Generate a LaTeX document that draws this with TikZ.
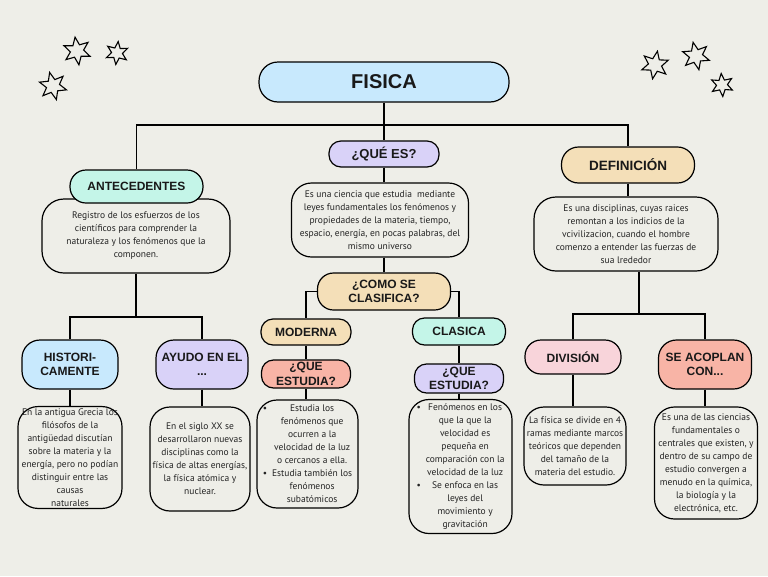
\documentclass[tikz,border=0pt]{standalone}
\usepackage{fontspec}
\setmainfont{Liberation Sans}
\newfontfamily\bodyfont{PT Sans}
\usetikzlibrary{positioning,shapes.geometric,calc}

\definecolor{paper}{RGB}{238,238,232}
\definecolor{skyfill}{RGB}{200,233,253}
\definecolor{lilacfill}{RGB}{217,210,248}
\definecolor{mintfill}{RGB}{196,245,232}
\definecolor{sandfill}{RGB}{244,223,184}
\definecolor{coralfill}{RGB}{248,180,166}
\definecolor{rosefill}{RGB}{248,212,218}
\definecolor{inkgray}{RGB}{35,35,35}

\tikzset{
  topic/.style={draw=black, line width=1.2pt, rounded corners=12pt, align=center,
    inner sep=2pt, text=black!90, font=\bfseries\fontsize{12}{14.5}\selectfont},
  notebox/.style={draw=black, line width=1.2pt, rounded corners=20pt, fill=paper,
    align=center, inner sep=2pt, text=inkgray, font=\bodyfont\fontsize{9.5}{13}\selectfont},
  link/.style={draw=black, line width=1.2pt},
  doodle/.style={star, star points=6, star point ratio=2.1, draw=black,
    line width=1.1pt, fill=paper, inner sep=0pt}
}

\begin{document}
\begin{tikzpicture}[x=1pt, y=-1pt]

    % Paper background fixes the page size
    \fill[paper] (0,0) rectangle (768,576);
    \useasboundingbox (0,0) rectangle (768,576);

    % Doodle stars in the top corners
    \foreach \i/\px/\py/\sz/\rot in {1/77/51/28/8, 2/117/53/23/-6, 3/53/86/28/14,
                                     4/655/65/28/-10, 5/696/56/28/12, 6/722/85/23/4}
      \node[doodle, minimum size=\sz pt, rotate=\rot] (star\i) at (\px,\py) {};

    % Title
    \node[topic, fill=skyfill, minimum width=250pt, minimum height=40pt, rounded corners=19pt,
          font=\bfseries\fontsize{20}{22}\selectfont] (fisica) at (384,82) {FISICA};

    % Central branch: que es / como se clasifica
    \node[topic, fill=lilacfill, minimum width=110pt, minimum height=26pt,
          font=\bfseries\fontsize{13}{15}\selectfont] (quees) at (384,154) {¿QUÉ ES?};
    \node[notebox, minimum width=177pt, minimum height=74pt] (esdesc) at (380,220) {
        Es una ciencia que estudia\ \ mediante\\
        leyes fundamentales los fenómenos y\\
        propiedades de la materia, tiempo,\\
        espacio, energía, en pocas palabras, del\\
        mismo universo};
    \node[topic, fill=sandfill, minimum width=133pt, minimum height=37pt, rounded corners=16pt]
          (clasif) at (384,291.5) {¿COMO SE\\CLASIFICA?};

    \node[topic, fill=sandfill, minimum width=90pt, minimum height=26pt] (moderna) at (306,332) {MODERNA};
    \node[topic, fill=coralfill, minimum width=89pt, minimum height=28pt] (modque) at (306,374) {¿QUE\\ESTUDIA?};
    \node[notebox, minimum width=101pt, minimum height=102pt] (moddesc) at (307.5,454) {
        \begin{tabular}{@{}l@{\hspace{5pt}}c@{}}
        \textbullet & Estudia los\\
                    & fenómenos que\\
                    & ocurren a la\\
                    & velocidad de la luz\\
                    & o cercanos a ella.\\
        \textbullet & Estudia también los\\
                    & fenómenos\\
                    & subatómicos
        \end{tabular}};

    \node[topic, fill=mintfill, minimum width=93pt, minimum height=27pt] (clasica) at (459,331.5) {CLASICA};
    \node[topic, fill=lilacfill, minimum width=89pt, minimum height=29pt] (clasque) at (459,378.5) {¿QUE\\ESTUDIA?};
    \node[notebox, minimum width=103pt, minimum height=124pt] (clasdesc) at (460.5,466.5) {
        \begin{tabular}{@{}l@{\hspace{5pt}}c@{}}
        \textbullet & Fenómenos en los\\
                    & que la que la\\
                    & velocidad es\\
                    & pequeña en\\
                    & comparación con la\\
                    & velocidad de la luz\\
        \textbullet & Se enfoca en las\\
                    & leyes del\\
                    & movimiento y\\
                    & gravitación
        \end{tabular}};

    % Left branch: antecedentes
    \node[notebox, minimum width=188pt, minimum height=74pt, rounded corners=22pt] (antdesc) at (136,236) {
        Registro de los esfuerzos de los\\
        científicos para comprender la\\
        naturaleza y los fenómenos que la\\
        componen.};
    \node[topic, fill=mintfill, minimum width=133pt, minimum height=33pt, rounded corners=16pt]
          (antec) at (136.5,186.5) {ANTECEDENTES};

    \node[topic, fill=skyfill, minimum width=96pt, minimum height=49pt, rounded corners=18pt]
          (hist) at (70,364.5) {HISTORI-\\CAMENTE};
    \node[notebox, minimum width=104pt, minimum height=101pt] (histdesc) at (70,457.5) {
        En la antigua Grecia los\\
        filósofos de la\\
        antigüedad discutían\\
        sobre la materia y la\\
        energía, pero no podían\\
        distinguir entre las\\
        causas\\
        naturales};

    \node[topic, fill=lilacfill, minimum width=92pt, minimum height=49pt, rounded corners=18pt]
          (ayudo) at (202,364.5) {AYUDO EN EL\\...};
    \node[notebox, minimum width=100pt, minimum height=104pt] (ayudesc) at (200,459) {
        En el siglo XX se\\
        desarrollaron nuevas\\
        disciplinas como la\\
        física de altas energías,\\
        la física atómica y\\
        nuclear.};

    % Right branch: definicion
    \node[topic, fill=sandfill, minimum width=133pt, minimum height=36pt, rounded corners=17pt,
          font=\bfseries\fontsize{13.5}{15}\selectfont] (defin) at (628,165) {DEFINICIÓN};
    \node[notebox, minimum width=184pt, minimum height=74pt, rounded corners=22pt] (defdesc) at (626,234) {
        Es una disciplinas, cuyas raices\\
        remontan a los indicios de la\\
        vcivilizacion, cuando el hombre\\
        comenzo a entender las fuerzas de\\
        sua lrededor};

    \node[topic, fill=rosefill, minimum width=96pt, minimum height=34pt, rounded corners=16pt]
          (divis) at (573,357) {DIVISIÓN};
    \node[notebox, minimum width=102pt, minimum height=78pt] (divdesc) at (575,446) {
        La física se divide en 4\\
        ramas mediante marcos\\
        teóricos que dependen\\
        del tamaño de la\\
        materia del estudio.};

    \node[topic, fill=coralfill, minimum width=93pt, minimum height=49pt, rounded corners=18pt]
          (acopl) at (705,364.5) {SE ACOPLAN\\CON...};
    \node[notebox, minimum width=103pt, minimum height=112pt] (acodesc) at (706,463) {
        Es una de las ciencias\\
        fundamentales o\\
        centrales que existen, y\\
        dentro de su campo de\\
        estudio convergen a\\
        menudo en la química,\\
        la biología y la\\
        electrónica, etc.};

    % Connectors
    \coordinate (hub) at (384,125);
    \coordinate (antsplit) at (136,317);
    \coordinate (defsplit) at (639,314);

    \draw[link] (fisica.south) -- (quees.north);
    \draw[link] (antec.north) |- (hub) -| (defin.north);
    \draw[link] (quees.south) -- (quees.south |- esdesc.north);
    \draw[link] (clasif.north |- esdesc.south) -- (clasif.north);
    \draw[link] (clasif.west) -| (moderna.north);
    \draw[link] (clasif.east) -| (clasica.north);
    \draw[link] (moderna.south) -- (modque.north);
    \draw[link] (modque.south) -- (modque.south |- moddesc.north);
    \draw[link] (clasica.south) -- (clasque.north);
    \draw[link] (clasque.south) -- (clasque.south |- clasdesc.north);

    \draw[link] (antsplit |- antdesc.south) -- (antsplit);
    \draw[link] (hist.north) |- (antsplit) -| (ayudo.north);
    \draw[link] (hist.south) -- (hist.south |- histdesc.north);
    \draw[link] (ayudo.south) -- (ayudo.south |- ayudesc.north);

    \draw[link] (defin.south) -- (defin.south |- defdesc.north);
    \draw[link] (defsplit |- defdesc.south) -- (defsplit);
    \draw[link] (divis.north) |- (defsplit) -| (acopl.north);
    \draw[link] (divis.south) -- (divis.south |- divdesc.north);
    \draw[link] (acopl.south) -- (acopl.south |- acodesc.north);

\end{tikzpicture}
\end{document}
